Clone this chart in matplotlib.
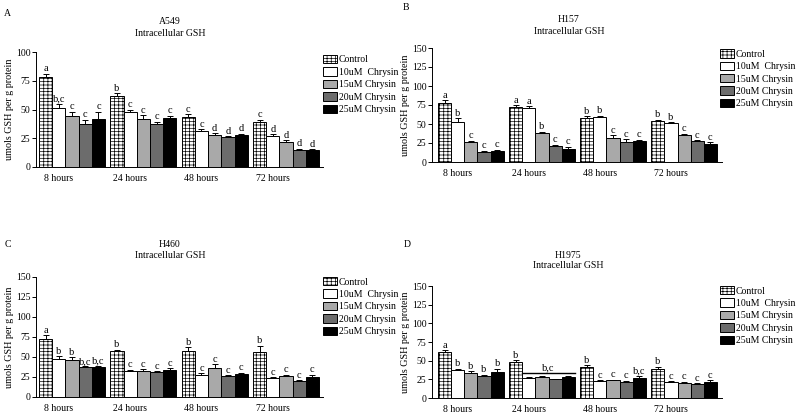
import matplotlib
matplotlib.use('Agg')
import matplotlib.pyplot as plt
from matplotlib.patches import Patch
import numpy as np

plt.rcParams['font.family'] = ['Liberation Serif', 'DejaVu Serif']
plt.rcParams['hatch.linewidth'] = 0.5

times = ['8 hours', '24 hours', '48 hours', '72 hours']
treatments = ['Control', '10uM  Chrysin', '15uM Chrysin', '20uM Chrysin', '25uM Chrysin']

# rows = time points, columns = treatments
a549_mean = [[78, 51, 44, 37, 42], [62, 48, 42, 37.5, 42.5], [43.5, 31, 28, 26, 28], [39, 27, 22, 15, 15]]
a549_err = [[3, 4, 4, 4, 6], [2, 2, 3, 2, 2], [2.5, 2, 1.5, 1, 1], [2, 1.5, 1.5, 1, 0.5]]
a549_sig = [['a', 'b,c', 'c', 'c', 'c'], ['b', 'c', 'c', 'c', 'c'], ['c', 'c', 'd', 'd', 'd'], ['c', 'd', 'd', 'd', 'd']]

h157_mean = [[78, 52, 26, 13.5, 14], [73, 71, 38, 21, 17], [58, 59.5, 32, 26, 28], [54, 51, 35, 28, 24]]
h157_err = [[3.5, 5.5, 2, 1.5, 2], [1.5, 2.5, 2, 1.5, 3], [2, 1.5, 3, 4, 1.5], [1.5, 1, 2, 1, 2]]
h157_sig = [['a', 'b', 'c', 'c', 'c'], ['a', 'a', 'b', 'c', 'c'], ['b', 'b', 'c', 'c', 'c'], ['b', 'b', 'c', 'c', 'c']]

h460_mean = [[73, 48, 46, 37, 37], [57, 33, 33, 31, 34], [57, 28, 36, 26, 29], [56, 24, 26, 19.5, 25]]
h460_err = [[4, 3, 4, 1.5, 2], [2, 1, 2, 1, 2], [5, 1.5, 5, 1, 1.5], [8, 1, 2, 1.5, 3]]
h460_sig = [['a', 'b', 'b', 'b,c', 'b,c'], ['b', 'c', 'c', 'c', 'c'], ['b', 'c', 'c', 'c', 'c'], ['b', 'c', 'c', 'c', 'c']]

h1975_mean = [[62, 38, 34, 30, 35], [48, 26.5, 28, 25, 28.5], [41, 22.5, 23.5, 21, 27], [39, 21, 20, 18.5, 21]]
h1975_err = [[2, 1, 1.5, 1, 4], [3, 1, 1, 0.5, 1.5], [3, 1, 1, 2, 3], [3, 1.5, 2, 1.5, 3]]
h1975_sig = [['a', 'b', 'b', 'b', 'b'], ['b', '', '', '', ''], ['b', 'c', 'c', 'c', 'b,c'], ['b', 'c', 'c', 'c', 'c']]
h1975_bracket_value = 34
h1975_bracket_label = 'b,c'

colors = ['white', 'white', '#a9a9a9', '#6c6c6c', 'black']
hatches = ['-----||||', None, None, None, None]

W, H = 800, 418
fig = plt.figure(figsize=(W / 100, H / 100), dpi=100)

PERIOD = 5.4


def px_axes(l, t, r, b):
    return fig.add_axes([l / W, 1 - b / H, (r - l) / W, (b - t) / H])


def draw_panel(box, xlim, ymax, mean, err, sig, letter, letter_xy, cell, title_x, title_y,
               legend_anchor):
    ax = px_axes(*box)
    mean = np.array(mean)
    err = np.array(err)
    for i in range(5):
        x = np.arange(4) * PERIOD + i
        ax.bar(x, mean[:, i], width=1.0, color=colors[i], edgecolor='black',
               linewidth=0.7, hatch=hatches[i], zorder=2)
        ax.errorbar(x, mean[:, i], yerr=[np.zeros(4), err[:, i]], fmt='none',
                    ecolor='black', elinewidth=0.7, capsize=2.5, capthick=0.7, zorder=3)
        for g in range(4):
            if sig[g][i]:
                ax.annotate(sig[g][i], (x[g], mean[g, i] + err[g, i]), xytext=(0, 0.3),
                            textcoords='offset points', ha='center', va='bottom', fontsize=7.5)
    ax.set_xlim(*xlim)
    ax.set_ylim(0, ymax)
    ax.set_yticks(np.arange(0, ymax + 1, 25))
    ax.set_xticks(np.arange(4) * PERIOD + 1)
    ax.set_xticklabels(times)
    ax.tick_params(axis='x', length=0, pad=5, labelsize=7)
    ax.tick_params(axis='y', length=3, width=0.7, pad=1, labelsize=7)
    for s in ['top', 'right']:
        ax.spines[s].set_visible(False)
    for s in ['left', 'bottom']:
        ax.spines[s].set_linewidth(0.7)
    ax.set_ylabel('umols GSH per g protein', fontsize=7.3, labelpad=1)
    handles = [Patch(facecolor=colors[i], edgecolor='black', linewidth=0.7, hatch=hatches[i])
               for i in range(5)]
    ax.legend(handles, treatments, loc='upper left', bbox_to_anchor=legend_anchor,
              frameon=False, fontsize=7, handlelength=1.45, handleheight=0.95,
              handletextpad=0.2, labelspacing=0.3, borderpad=0, borderaxespad=0)
    fig.text(letter_xy[0] / W, 1 - letter_xy[1] / H, letter, ha='left', va='center', fontsize=7)
    fig.text(title_x / W, 1 - title_y[0] / H, cell, ha='center', va='center', fontsize=7)
    fig.text(title_x / W, 1 - title_y[1] / H, 'Intracellular GSH', ha='center', va='center',
             fontsize=7)
    return ax


draw_panel((36, 52, 323, 167), (-0.73, 21.0), 100, a549_mean, a549_err, a549_sig,
           'A', (4, 13), 'A549', 170, (21, 33), (1.0, 0.975))
draw_panel((432, 48, 722, 162), (-0.95, 21.08), 150, h157_mean, h157_err, h157_sig,
           'B', (403, 8), 'H157', 569, (20, 32), (0.993, 0.99))
draw_panel((36, 277, 323, 397), (-0.73, 21.0), 150, h460_mean, h460_err, h460_sig,
           'C', (5, 244), 'H460', 170, (244, 255), (1.0, 1.0))
axD = draw_panel((432, 286, 722, 398), (-0.95, 21.08), 150, h1975_mean, h1975_err, h1975_sig,
                 'D', (404, 244), 'H1975', 568, (255, 266), (0.993, 1.0))

# bracket over 24-hour treated bars in H1975
x0 = 1 * PERIOD + 1 - 0.5
x1 = 1 * PERIOD + 4 + 0.5
axD.plot([x0, x1], [h1975_bracket_value] * 2, color='black', linewidth=1.0, zorder=3)
axD.annotate(h1975_bracket_label, ((x0 + x1) / 2, h1975_bracket_value), xytext=(0, 0.5),
             textcoords='offset points', ha='center', va='bottom', fontsize=7.5)

fig.savefig('out.png', dpi=100)
